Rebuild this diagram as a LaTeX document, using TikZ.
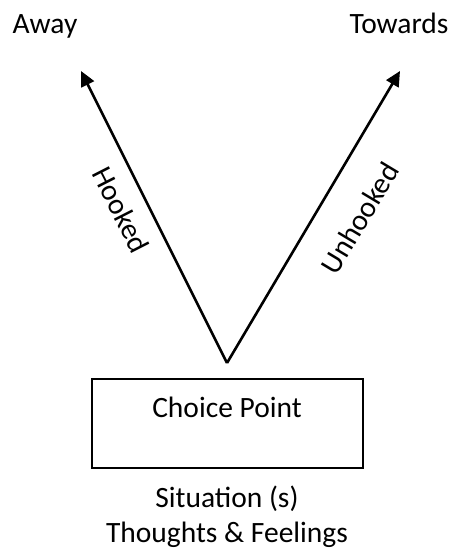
\documentclass[tikz,border=0pt]{standalone}
\usepackage{fontspec}
\setmainfont{Carlito}
\usetikzlibrary{arrows.meta}
\tikzset{
  lbl/.style={inner sep=0pt, font=\fontsize{29.5}{35}\selectfont},
  blbl/.style={lbl, anchor=base},
  arr/.style={line width=2.6pt, -{Triangle[length=15pt,width=14pt]}},
  cpbox/.style={draw, line width=1.3pt, minimum width=271pt, minimum height=89pt, inner sep=0pt}
}
\begin{document}
\begin{tikzpicture}[x=1pt,y=1pt]
\useasboundingbox (0,0) rectangle (452,-554);
\coordinate (v) at (227,-363);
\coordinate (tl) at (81,-71);
\coordinate (tr) at (400,-71);
\node[blbl] (away) at (45,-33) {Away};
\node[blbl] (towards) at (399,-33) {Towards};
\draw[arr] (v) -- (tl);
\draw[arr] (v) -- (tr);
\node[lbl, rotate=-63] (hooked) at (121,-210) {Hooked};
\node[lbl, rotate=59] (unhooked) at (360,-218) {Unhooked};
\node[cpbox] (box) at (227.5,-423.5) {};
\node[blbl] (cp) at (227,-417) {Choice Point};
\node[blbl] (sit) at (227,-507) {Situation (s)};
\node[blbl] (tf) at (227,-542) {Thoughts \& Feelings};
\end{tikzpicture}
\end{document}
